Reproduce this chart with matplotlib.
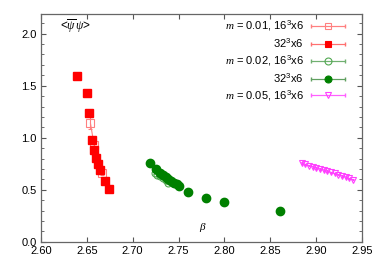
import numpy as np
import matplotlib
matplotlib.use('Agg')
import matplotlib.pyplot as plt
from matplotlib.lines import Line2D
from matplotlib.collections import LineCollection
from matplotlib.container import ErrorbarContainer
from matplotlib.legend_handler import HandlerErrorbar

plt.rcParams['font.family'] = 'Liberation Sans'
plt.rcParams['mathtext.fontset'] = 'custom'
plt.rcParams['mathtext.it'] = 'Liberation Serif:italic'
plt.rcParams['mathtext.rm'] = 'Liberation Sans'

# m=0.01, 16^3x6
b_r16 = [2.654, 2.658, 2.667]
p_r16 = [1.14, 0.93, 0.66]
e_r16 = [0.06, 0.03, 0.02]
# m=0.01, 32^3x6
b_r32 = [2.6396, 2.6498, 2.6527, 2.656, 2.658, 2.660, 2.662, 2.6647, 2.670, 2.6745]
p_r32 = [1.59, 1.426, 1.24, 0.98, 0.878, 0.805, 0.75, 0.686, 0.587, 0.512]
# m=0.02, 16^3x6
b_g16 = [2.724, 2.727, 2.730, 2.733, 2.736, 2.739]
p_g16 = [0.66, 0.645, 0.63, 0.61, 0.59, 0.57]
e_g16 = [0.01, 0.01, 0.01, 0.01, 0.01, 0.01]
# m=0.02, 32^3x6
b_g32 = [2.719, 2.725, 2.730, 2.733, 2.736, 2.739, 2.742, 2.745, 2.748, 2.750, 2.760, 2.780, 2.800, 2.860]
p_g32 = [0.757, 0.702, 0.66, 0.64, 0.62, 0.60, 0.585, 0.57, 0.555, 0.54, 0.484, 0.423, 0.385, 0.30]
# m=0.05, 16^3x6
b_m16 = [2.884, 2.888, 2.892, 2.896, 2.900, 2.904, 2.908, 2.912, 2.916, 2.920, 2.924, 2.928, 2.932, 2.936, 2.940]
p_m16 = [0.757, 0.745, 0.733, 0.722, 0.711, 0.700, 0.690, 0.679, 0.668, 0.657, 0.646, 0.634, 0.622, 0.610, 0.598]
e_m16 = [0.008] * 15

labels = [r'$m$ = $\mathit{0.01}$, 16$^3$x6', r'32$^3$x6',
          r'$m$ = $\mathit{0.02}$, 16$^3$x6', r'32$^3$x6',
          r'$m$ = $\mathit{0.05}$, 16$^3$x6']

fig = plt.figure(figsize=(3.82, 2.67), dpi=100)
ax = fig.add_axes([0.107, 0.094, 0.841, 0.854])

ax.errorbar(b_r16, p_r16, yerr=e_r16, color='#ff8080', lw=0.8, marker='s', ms=5.5,
            mfc='none', mec='#ff8080', mew=0.8, capsize=1.5, zorder=3)
ax.plot(b_r32, p_r32, ls='none', marker='s', ms=5.8, color='#ff0000', zorder=4)
ax.errorbar(b_g16, p_g16, yerr=e_g16, color='#60b060', lw=0.8, marker='o', ms=5,
            mfc='none', mec='#50a850', mew=0.8, capsize=1.5, zorder=3)
ax.plot(b_g32, p_g32, ls='none', marker='o', ms=6, color='#008000', zorder=4)
ax.errorbar(b_m16, p_m16, yerr=e_m16, color='#ff40ff', lw=0.8, marker='v', ms=4.5,
            mfc='none', mec='#ff40ff', mew=0.8, capsize=1.0, zorder=3)

ax.set_xlim(2.60, 2.95)
ax.set_ylim(0, 2.19)
ax.set_xticks(np.arange(2.60, 2.951, 0.05))
ax.set_xticklabels(['%.2f' % v for v in np.arange(2.60, 2.951, 0.05)])
ax.set_yticks(np.arange(0, 2.01, 0.5))
ax.set_yticklabels(['%.1f' % v for v in np.arange(0, 2.01, 0.5)])
ax.set_yticks(np.arange(0, 2.19, 0.1), minor=True)
ax.tick_params(which='both', direction='in', top=True, right=True, labelsize=8,
               color='#555555', pad=3)
ax.tick_params(which='major', length=3.5)
ax.tick_params(which='minor', length=2)
for s in ax.spines.values():
    s.set_color('#666666')
    s.set_linewidth(0.9)

ax.text(0.109, 0.945, r'<$\overline{\psi}\,\psi$>', transform=ax.transAxes,
        ha='center', va='center', fontsize=8.5)
ax.text(0.505, 0.065, r'$\beta$', transform=ax.transAxes, ha='center', va='center',
        fontsize=8)

# gnuplot-like key samples
styles = [('#ff8080', 's', 'none', '#ff8080'), ('#ff7070', 's', '#ff0000', '#ff0000'),
          ('#70b070', 'o', 'none', '#50a850'), ('#60a060', 'o', '#008000', '#008000'),
          ('#ff60ff', 'v', 'none', '#ff40ff')]
handles = []
for c, mk, fc, ec in styles:
    ln = Line2D([], [], color=c, lw=0.8, marker=mk, ms=5, mfc=fc, mec=ec, mew=0.8)
    cap = Line2D([], [], color=c, marker='|', ms=3, ls='none')
    bar = LineCollection([], colors=c, linewidths=0.8)
    handles.append(ErrorbarContainer((ln, (cap, cap), [bar]), has_xerr=True, has_yerr=False))

ax.legend(handles, labels, loc='upper right', markerfirst=False, frameon=False,
          fontsize=8, handlelength=3.0, handletextpad=0.7, labelspacing=0.33,
          borderaxespad=0.3, bbox_to_anchor=(0.97, 1.01),
          handler_map={ErrorbarContainer: HandlerErrorbar(xerr_size=1.5)})

fig.savefig('out.png', dpi=100)
